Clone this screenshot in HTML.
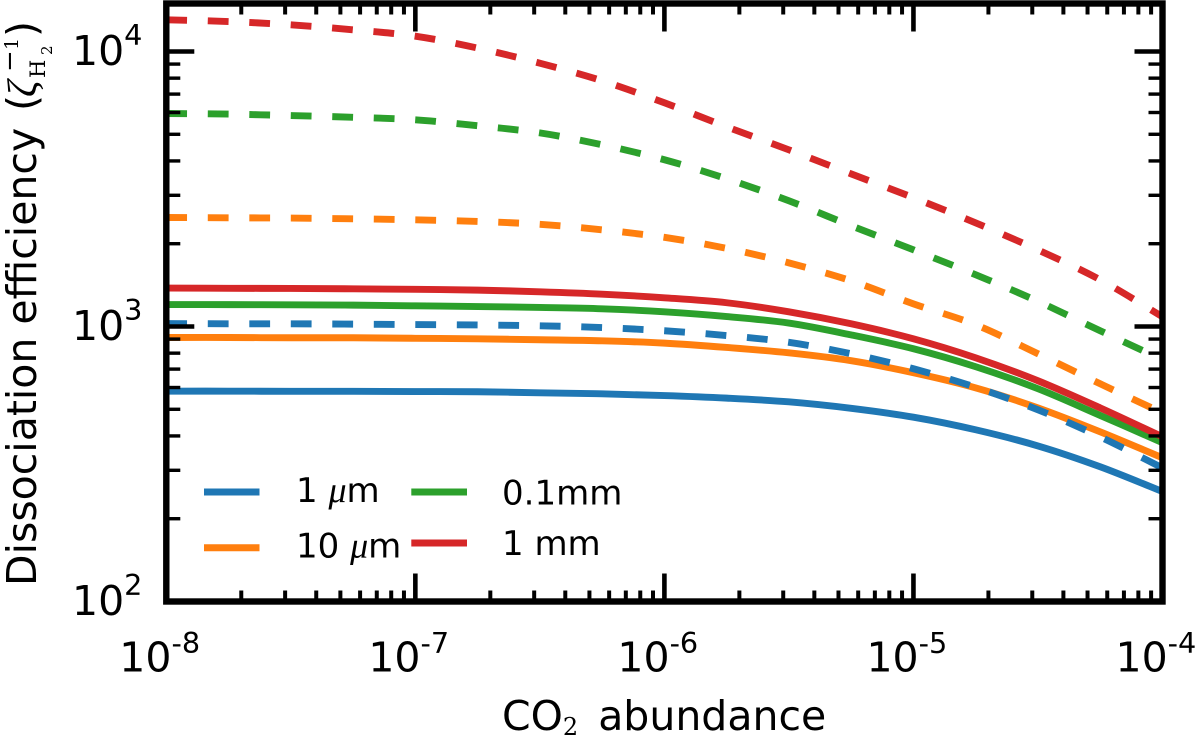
<!DOCTYPE html>
<html>
<head>
<meta charset="utf-8">
<title>Dissociation efficiency vs CO2 abundance</title>
<style>
html,body{margin:0;padding:0;background:#fff;}
svg{display:block;}
text{font-family:"DejaVu Sans","Liberation Sans",sans-serif;fill:#000;}
.serif{font-family:"DejaVu Serif","Liberation Serif",serif;}
.math{font-family:"Liberation Serif","DejaVu Serif",serif;font-style:italic;}
</style>
</head>
<body>
<svg id="chart" width="1200" height="736" viewBox="0 0 1200 736" xmlns="http://www.w3.org/2000/svg">
  <defs>
    <clipPath id="plot-clip"><rect x="166.3" y="3.5" width="996.2" height="598"/></clipPath>
  </defs>
  <rect width="1200" height="736" fill="#fff"/>
  <g id="series" clip-path="url(#plot-clip)" fill="none"></g>
  <g id="ticks" stroke="#000"></g>
  <g>
    <rect x="166.3" y="3.5" width="996.2" height="598" fill="none" stroke="#000" stroke-width="6.4"/>
  </g>
  <g id="tick-labels"></g>

  <text x="502" y="730" font-size="41">CO<tspan class="serif" font-size="24" dy="5">2</tspan><tspan dy="-5" dx="20">abundance</tspan></text>

  <g>
    <text transform="translate(36,586) rotate(-90)" font-size="41">Dissociation efficiency</text>
    <text transform="translate(36,111) rotate(-90)" font-size="41">(</text>
    <text class="math" transform="translate(36,97) rotate(-90)" font-size="41">ζ</text>
    <text class="serif" transform="translate(18,72) rotate(-90)" font-size="26">−</text>
    <text class="serif" transform="translate(18,50) rotate(-90)" font-size="19">1</text>
    <text class="serif" transform="translate(45,78) rotate(-90)" font-size="21">H</text>
    <text class="serif" transform="translate(52,55) rotate(-90)" font-size="15">2</text>
    <text transform="translate(36,37) rotate(-90)" font-size="41">)</text>
  </g>

  <g>
    <line x1="204" y1="492" x2="259.5" y2="492" stroke="#1f77b4" stroke-width="7"/>
    <text x="296" y="502" font-size="34">1 <tspan class="math" font-size="36">μ</tspan>m</text>
    <line x1="204" y1="547.7" x2="259.5" y2="547.7" stroke="#ff7f0e" stroke-width="7"/>
    <text x="296" y="557.7" font-size="34">10 <tspan class="math" font-size="36">μ</tspan>m</text>
    <line x1="411.3" y1="492" x2="467" y2="492" stroke="#2ca02c" stroke-width="7"/>
    <text x="502" y="504.3" font-size="34">0.1mm</text>
    <line x1="411.3" y1="543" x2="467" y2="543" stroke="#d62728" stroke-width="7"/>
    <text x="502" y="555" font-size="34">1 mm</text>
  </g>
</svg>
<script>
// Data
const abundance = [1e-8,1.78e-8,3.16e-8,5.62e-8,1e-7,1.78e-7,3.16e-7,5.62e-7,1e-6,1.78e-6,3.16e-6,5.62e-6,1e-5,1.78e-5,3.16e-5,5.62e-5,1e-4];

const solid1um   = [582,582,581,581,580,579,574,569,561,549,532,504,468,421,368,309,251];
const solid10um  = [912,912,910,910,906,902,895,887,870,839,802,751,679,598,506,414,333];
const solid01mm  = [1202,1201,1199,1196,1189,1182,1173,1160,1131,1087,1029,932,830,714,594,475,378];
const solid1mm   = [1380,1377,1375,1371,1365,1356,1337,1311,1272,1220,1131,1023,902,769,635,506,397];

const dashed1um  = [1025,1023,1023,1020,1016,1013,1006,991,965,927,876,796,702,601,498,397,306];
const dashed10um = [2491,2485,2479,2464,2443,2409,2353,2247,2110,1924,1704,1466,1209,1014,796,619,485];
const dashed01mm = [5950,5920,5850,5765,5645,5370,5060,4580,4040,3445,2865,2325,1900,1542,1235,965,757];
const dashed1mm  = [13040,12850,12500,11990,11370,10290,9070,7825,6510,5320,4390,3590,2940,2380,1900,1479,1085];

const xMajorExponents = [-8,-7,-6,-5,-4];
const yMajorExponents = [2,3,4];
const minorMultipliers = [2,3,4,5,6,7,8,9];

const COLORS = {blue:'#1f77b4',orange:'#ff7f0e',green:'#2ca02c',red:'#d62728'};
const NS = 'http://www.w3.org/2000/svg';

const PLOT = {left:166.3,right:1162.5,top:3.5,bottom:601.5};
const X_DECADE = (PLOT.right-PLOT.left)/4;
const Y_DECADE = 275;
function xScale(v){return PLOT.left+(Math.log10(v)+8)*X_DECADE;}
function yScale(v){return PLOT.bottom-(Math.log10(v)-2)*Y_DECADE;}

function curvePath(xs,ys){
  const pts = xs.map(function(x,i){return [xScale(x),yScale(ys[i])];});
  let d = 'M'+pts[0][0].toFixed(2)+' '+pts[0][1].toFixed(2);
  for(let i=0;i<pts.length-1;i++){
    const p0=pts[Math.max(0,i-1)],p1=pts[i],p2=pts[i+1],p3=pts[Math.min(pts.length-1,i+2)];
    const c1x=p1[0]+(p2[0]-p0[0])/6,c1y=p1[1]+(p2[1]-p0[1])/6;
    const c2x=p2[0]-(p3[0]-p1[0])/6,c2y=p2[1]-(p3[1]-p1[1])/6;
    d+='C'+c1x.toFixed(2)+' '+c1y.toFixed(2)+' '+c2x.toFixed(2)+' '+c2y.toFixed(2)+' '+p2[0].toFixed(2)+' '+p2[1].toFixed(2);
  }
  return d;
}

const seriesGroup = document.getElementById('series');
function drawSeries(values,color,dashed,name){
  const p = document.createElementNS(NS,'path');
  p.setAttribute('d',curvePath(abundance,values));
  p.setAttribute('stroke',color);
  p.setAttribute('stroke-width','6.9');
  if(dashed){p.setAttribute('stroke-dasharray','20.8 20.7');}
  
  
  seriesGroup.appendChild(p);
}
drawSeries(solid1um,COLORS.blue,false,'line-solid-1um');
drawSeries(solid10um,COLORS.orange,false,'line-solid-10um');
drawSeries(solid01mm,COLORS.green,false,'line-solid-0-1mm');
drawSeries(solid1mm,COLORS.red,false,'line-solid-1mm');
drawSeries(dashed1um,COLORS.blue,true,'line-dashed-1um');
drawSeries(dashed10um,COLORS.orange,true,'line-dashed-10um');
drawSeries(dashed01mm,COLORS.green,true,'line-dashed-0-1mm');
drawSeries(dashed1mm,COLORS.red,true,'line-dashed-1mm');

const tickGroup = document.getElementById('ticks');
function tick(x1,y1,x2,y2,w,name){
  const l = document.createElementNS(NS,'line');
  l.setAttribute('x1',x1);
  l.setAttribute('y1',y1);
  l.setAttribute('x2',x2);
  l.setAttribute('y2',y2);
  l.setAttribute('stroke-width',w);
  
  
  tickGroup.appendChild(l);
}
function xTickPair(v,major){
  const x = xScale(v);
  const len = major ? 28 : 11;
  const w = major ? 4.6 : 4;
  tick(x,PLOT.bottom,x,PLOT.bottom-len,w,major?'x-major-tick':'x-minor-tick');
  tick(x,PLOT.top,x,PLOT.top+len,w,major?'x-major-tick-top':'x-minor-tick-top');
}
function yTickPair(v,major){
  const y = yScale(v);
  const len = major ? 28 : 14;
  const w = major ? 4.6 : 3.4;
  tick(PLOT.left,y,PLOT.left+len,y,w,major?'y-major-tick':'y-minor-tick');
  tick(PLOT.right,y,PLOT.right-len,y,w,major?'y-major-tick-right':'y-minor-tick-right');
}
xMajorExponents.forEach(function(e,i){
  xTickPair(Math.pow(10,e),true);
  if(i<xMajorExponents.length-1){
    minorMultipliers.forEach(function(m){xTickPair(m*Math.pow(10,e),false);});
  }
});
yMajorExponents.forEach(function(e,i){
  yTickPair(Math.pow(10,e),true);
  if(i<yMajorExponents.length-1){
    minorMultipliers.forEach(function(m){yTickPair(m*Math.pow(10,e),false);});
  }
});

const labelGroup = document.getElementById('tick-labels');
function tickLabel(base,baseline,exponent,rise,name){
  const t = document.createElementNS(NS,'text');
  t.setAttribute('x',base);
  t.setAttribute('y',baseline);
  t.setAttribute('font-size','41');
  
  
  t.textContent = '10';
  const s = document.createElementNS(NS,'tspan');
  s.setAttribute('font-size','28.7');
  s.setAttribute('dy',rise);
  s.textContent = String(exponent);
  t.appendChild(s);
  labelGroup.appendChild(t);
}
xMajorExponents.forEach(function(e){
  tickLabel(xScale(Math.pow(10,e))-47,671.7,e,-18.7,'x-tick-label');
});
yMajorExponents.forEach(function(e){
  tickLabel(72,yScale(Math.pow(10,e))+13.5,e,-20,'y-tick-label');
});
</script>
</body>
</html>
